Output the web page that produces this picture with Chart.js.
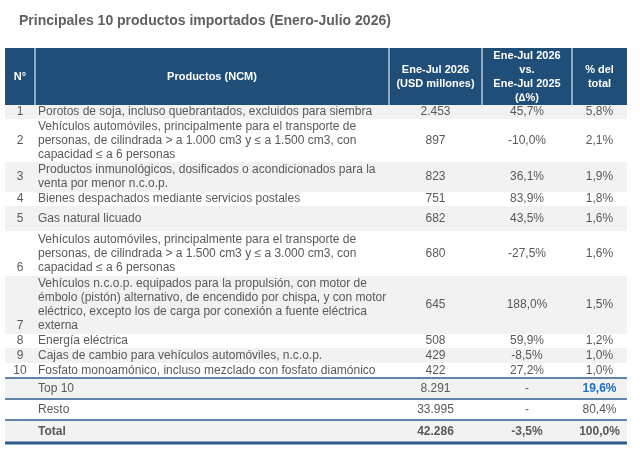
<!DOCTYPE html>
<html lang="es">
<head>
<meta charset="utf-8">
<title>Principales 10 productos importados</title>
<script src="https://cdn.jsdelivr.net/npm/chart.js@4.4.1/dist/chart.umd.min.js"></script>
<style>
  html, body { margin: 0; padding: 0; background: #fff; }
  #wrap { width: 640px; height: 458px; }
</style>
</head>
<body>
<div id="wrap"><canvas id="tabla" width="640" height="458"></canvas></div>
<script>
// --- Datos ---
const chartTitle = 'Principales 10 productos importados (Enero-Julio 2026)';
const headers = ['N°', 'Productos (NCM)', 'Ene-Jul 2026\n(USD millones)', 'Ene-Jul 2026\nvs.\nEne-Jul 2025\n(∆%)', '% del\ntotal'];
const ranks = ['1', '2', '3', '4', '5', '6', '7', '8', '9', '10'];
const products = [
    'Porotos de soja, incluso quebrantados, excluidos para siembra',
    'Vehículos automóviles, principalmente para el transporte de\npersonas, de cilindrada > a 1.000 cm3 y ≤ a 1.500 cm3, con\ncapacidad ≤ a 6 personas',
    'Productos inmunológicos, dosificados o acondicionados para la\nventa por menor n.c.o.p.',
    'Bienes despachados mediante servicios postales',
    'Gas natural licuado',
    'Vehículos automóviles, principalmente para el transporte de\npersonas, de cilindrada > a 1.500 cm3 y ≤ a 3.000 cm3, con\ncapacidad ≤ a 6 personas',
    'Vehículos n.c.o.p. equipados para la propulsión, con motor de\némbolo (pistón) alternativo, de encendido por chispa, y con motor\neléctrico, excepto los de carga por conexión a fuente eléctrica\nexterna',
    'Energía eléctrica',
    'Cajas de cambio para vehículos automóviles, n.c.o.p.',
    'Fosfato monoamónico, incluso mezclado con fosfato diamónico'
];
const valuesUsd = [2453, 897, 823, 751, 682, 680, 645, 508, 429, 422];
const variation = [45.7, -10.0, 36.1, 83.9, 43.5, -27.5, 188.0, 59.9, -8.5, 27.2];
const share = [5.8, 2.1, 1.9, 1.8, 1.6, 1.6, 1.5, 1.2, 1.0, 1.0];

const summaryLabels = ['Top 10', 'Resto', 'Total'];
const summaryUsd = [8291, 33995, 42286];
const summaryVariation = [null, null, -3.5];
const summaryShare = [19.6, 80.4, 100.0];

// --- Layout (px en unidades de las escalas) ---
const colEdges = [0, 30, 384, 477, 567, 622];
const headerHeight = 57;
const rowHeights = [14, 43, 30, 14, 25, 45, 58, 14, 15, 15];
const rankBottom = [false, false, false, false, false, true, true, false, false, false];
const summaryHeights = [21, 21, 23];
const tableHeight = 398;
const lineH = 14;

const colors = {
    header: '#1f4e79',
    headerSep: 'rgba(255,255,255,0.7)',
    stripe: '#f2f2f2',
    text: '#595959',
    rule: '#2e5d8c',
    accent: '#1f6fc5'
};
const bodyFont = '12px "Liberation Sans", Arial, sans-serif';
const bodyBold = 'bold 12px "Liberation Sans", Arial, sans-serif';
const headFont = 'bold 11px "Liberation Sans", Arial, sans-serif';

const fmtInt = v => String(v).replace(/\B(?=(\d{3})+(?!\d))/g, '.');
const fmtPct = v => (v === null ? '-' : v.toFixed(1).replace('.', ',') + '%');

// --- Dibujo de la tabla sobre las escalas del gráfico ---
const tablePlugin = {
    id: 'tablaImportaciones',
    afterDraw(chart) {
        const { ctx, scales: { x, y } } = chart;
        const px = v => x.getPixelForValue(v);
        const py = v => y.getPixelForValue(v);

        const drawLines = (text, cx, cy, align, font, color, bottomY) => {
            const lines = text.split('\n');
            ctx.font = font;
            ctx.fillStyle = color;
            ctx.textAlign = align;
            ctx.textBaseline = 'middle';
            let start = cy - (lines.length - 1) * lineH / 2;
            if (bottomY !== undefined) start = bottomY;
            lines.forEach((ln, i) => ctx.fillText(ln, cx, start + i * lineH));
        };
        const colCenter = c => (px(colEdges[c]) + px(colEdges[c + 1])) / 2;

        ctx.save();

        // titulo
        ctx.font = 'bold 14px "Liberation Sans", Arial, sans-serif';
        ctx.fillStyle = '#606060';
        ctx.textAlign = 'left';
        ctx.textBaseline = 'middle';
        ctx.fillText(chartTitle, 19, 21);

        // encabezado
        ctx.fillStyle = colors.header;
        ctx.fillRect(px(0), py(0), px(colEdges[5]) - px(0), py(headerHeight) - py(0));
        ctx.strokeStyle = colors.headerSep;
        ctx.lineWidth = 1.5;
        for (let c = 1; c < colEdges.length - 1; c++) {
            ctx.beginPath();
            ctx.moveTo(px(colEdges[c]), py(0));
            ctx.lineTo(px(colEdges[c]), py(headerHeight));
            ctx.stroke();
        }
        headers.forEach((h, c) => {
            drawLines(h, colCenter(c), py(headerHeight / 2), 'center', headFont, '#ffffff');
        });

        // filas 1-10
        let top = headerHeight;
        products.forEach((p, i) => {
            const bottom = top + rowHeights[i];
            if (i % 2 === 0) {
                ctx.fillStyle = colors.stripe;
                ctx.fillRect(px(0), py(top), px(colEdges[5]) - px(0), py(bottom) - py(top));
            }
            const cy = py((top + bottom) / 2);
            const nLines = p.split('\n').length;
            const lastLine = cy + (nLines - 1) * lineH / 2;
            drawLines(ranks[i], colCenter(0), cy, 'center', bodyFont, colors.text, rankBottom[i] ? lastLine : undefined);
            drawLines(p, px(colEdges[1]) + 3, cy, 'left', bodyFont, colors.text);
            drawLines(fmtInt(valuesUsd[i]), colCenter(2), cy, 'center', bodyFont, colors.text);
            drawLines(fmtPct(variation[i]), colCenter(3), cy, 'center', bodyFont, colors.text);
            drawLines(fmtPct(share[i]), colCenter(4), cy, 'center', bodyFont, colors.text);
            top = bottom;
        });

        const rule = (yv, w) => {
            ctx.strokeStyle = colors.rule;
            ctx.lineWidth = w;
            ctx.beginPath();
            ctx.moveTo(px(0), py(yv));
            ctx.lineTo(px(colEdges[5]), py(yv));
            ctx.stroke();
        };

        // filas resumen
        const rules = [top];
        summaryLabels.forEach((lbl, i) => {
            const bottom = top + summaryHeights[i];
            if (i % 2 === 0) {
                ctx.fillStyle = colors.stripe;
                ctx.fillRect(px(0), py(top), px(colEdges[5]) - px(0), py(bottom) - py(top));
            }
            const cy = py((top + bottom) / 2);
            const isTotal = i === summaryLabels.length - 1;
            const f = isTotal ? bodyBold : bodyFont;
            drawLines(lbl, px(colEdges[1]) + 3, cy, 'left', f, colors.text);
            drawLines(fmtInt(summaryUsd[i]), colCenter(2), cy, 'center', f, colors.text);
            drawLines(fmtPct(summaryVariation[i]), colCenter(3), cy, 'center', f, colors.text);
            if (i === 0) {
                drawLines(fmtPct(summaryShare[i]), colCenter(4), cy, 'center', bodyBold, colors.accent);
            } else {
                drawLines(fmtPct(summaryShare[i]), colCenter(4), cy, 'center', f, colors.text);
            }
            rules.push(bottom);
            top = bottom;
        });
        rules.forEach((r, i) => rule(r, i === rules.length - 1 ? 3 : 1.5));

        ctx.restore();
    }
};

new Chart(document.getElementById('tabla'), {
    type: 'scatter',
    data: { datasets: [{ data: [] }] },
    options: {
        responsive: false,
        animation: false,
        events: [],
        layout: { padding: { left: 5, right: 640 - 5 - colEdges[5], top: 48, bottom: 458 - 48 - tableHeight } },
        plugins: { legend: { display: false }, tooltip: { enabled: false } },
        scales: {
            x: { type: 'linear', min: 0, max: colEdges[5], display: false },
            y: { type: 'linear', min: 0, max: tableHeight, reverse: true, display: false }
        }
    },
    plugins: [tablePlugin]
});
</script>
</body>
</html>
